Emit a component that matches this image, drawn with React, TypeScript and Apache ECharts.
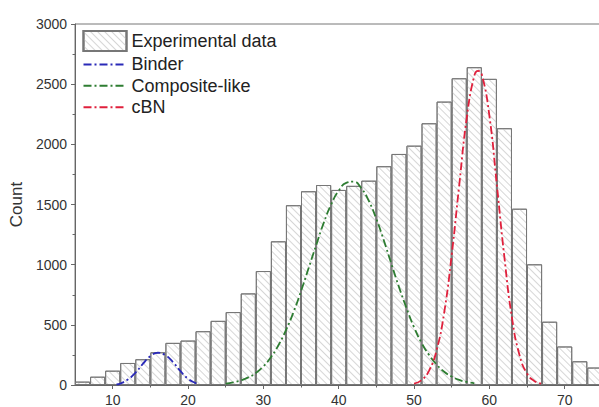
import React, { useEffect, useRef } from "react";
import * as echarts from "echarts";

const binCenters = [6, 8, 10, 12, 14, 16, 18, 20, 22, 24, 26, 28, 30, 32, 34, 36, 38, 40, 42, 44, 46, 48, 50, 52, 54, 56, 58, 60, 62, 64, 66, 68, 70, 72, 74];
const binCounts = [28, 69, 119, 183, 214, 272, 350, 369, 447, 533, 606, 761, 947, 1194, 1494, 1610, 1662, 1621, 1655, 1698, 1818, 1920, 1989, 2175, 2355, 2549, 2641, 2544, 2134, 1465, 1003, 526, 320, 197, 145];

const binderX = [10.5, 11, 12, 13, 14, 15, 16, 17, 18, 19, 20, 21, 21.5];
const binderY = [5, 12, 45, 100, 175, 240, 268, 248, 190, 115, 52, 16, 6];

const compositeX = [25, 26, 27, 28, 29, 30, 31, 32, 33, 34, 35, 36, 37, 38, 39, 40, 41, 42, 43, 44, 45, 46, 47, 48, 49, 50, 51, 52, 53, 54, 55, 56, 57, 58];
const compositeY = [12, 22, 38, 63, 100, 155, 230, 330, 455, 605, 780, 970, 1160, 1345, 1500, 1615, 1680, 1690, 1635, 1530, 1380, 1200, 1005, 815, 640, 480, 350, 250, 170, 110, 70, 42, 25, 14];

const cbnX = [50, 51, 52, 53, 54, 55, 56, 57, 58, 58.5, 59, 60, 61, 62, 63, 64, 65, 66, 67];
const cbnY = [12, 40, 120, 290, 600, 1080, 1660, 2220, 2570, 2610, 2580, 2240, 1660, 1060, 560, 250, 95, 32, 10];

const xTickLabels = [10, 20, 30, 40, 50, 60, 70];
const xMinorTicks = [15, 25, 35, 45, 55, 65, 75];

const FONT = "'Liberation Sans', Arial, Helvetica, sans-serif";

const GRID_LEFT = 73;
const GRID_TOP = 24;
const X_MIN = 5;
const X_MAX = 80;
const PX_PER_UNIT = 7.56;
const GRID_W = (X_MAX - X_MIN) * PX_PER_UNIT;
const GRID_H = 363;
const CHART_W = 680;
const CHART_H = 407;

const zip = (xs: number[], ys: number[]) => xs.map((x, i) => [x, ys[i]]);

export default function App() {
  const ref = useRef<HTMLDivElement>(null);

  useEffect(() => {
    if (!ref.current) return;
    const chart = echarts.init(ref.current, undefined, { renderer: "svg" });
    const dashDot = [8, 3, 2, 3];
    const axisColor = "#666";
    const hideSymbol = { opacity: 0 };
    const option: any = {
      animation: false,
      backgroundColor: "#ffffff",
      textStyle: { fontFamily: FONT },
      grid: {
        left: GRID_LEFT,
        top: GRID_TOP,
        width: GRID_W,
        height: GRID_H,
        show: true,
        borderColor: "#777",
        borderWidth: 1,
        backgroundColor: "transparent",
      },
      legend: {
        orient: "vertical",
        left: 82.5,
        top: 30,
        padding: 0,
        itemWidth: 43,
        itemHeight: 20,
        itemGap: 3.4,
        textStyle: { fontSize: 18, color: "#222", fontFamily: FONT },
        data: [
          { name: "Experimental data", icon: "rect" },
          { name: "Binder", itemStyle: hideSymbol },
          { name: "Composite-like", itemStyle: hideSymbol },
          { name: "cBN", itemStyle: hideSymbol },
        ],
      },
      xAxis: [
        {
          type: "value",
          min: X_MIN,
          max: X_MAX,
          axisLine: { show: true, lineStyle: { color: axisColor, width: 1 } },
          axisTick: { show: true, inside: false, length: 4, customValues: xTickLabels, lineStyle: { color: axisColor } },
          axisLabel: { show: true, customValues: xTickLabels, fontSize: 14, color: "#333", margin: 8, fontFamily: FONT },
          splitLine: { show: false },
        },
        {
          type: "value",
          min: X_MIN,
          max: X_MAX,
          position: "bottom",
          axisLine: { show: false },
          axisTick: { show: true, inside: false, length: 2.5, customValues: xMinorTicks, lineStyle: { color: axisColor } },
          axisLabel: { show: false },
          splitLine: { show: false },
        },
      ],
      yAxis: {
        type: "value",
        min: 0,
        max: 3000,
        interval: 500,
        name: "Count",
        nameLocation: "middle",
        nameGap: 46,
        nameTextStyle: { fontSize: 17, color: "#333", fontFamily: FONT },
        axisLine: { show: true, lineStyle: { color: axisColor, width: 1 } },
        axisTick: { show: true, inside: false, length: 4, lineStyle: { color: axisColor } },
        minorTick: { show: true, splitNumber: 2, length: 2.5, lineStyle: { color: axisColor } },
        axisLabel: { fontSize: 14, color: "#333", margin: 8, fontFamily: FONT, formatter: (v: number) => String(v) },
        splitLine: { show: false },
      },
      series: [
        {
          name: "Experimental data",
          type: "bar",
          xAxisIndex: 0,
          barWidth: 2 * PX_PER_UNIT,
          data: zip(binCenters, binCounts),
          itemStyle: {
            color: "#ffffff",
            borderColor: "#777",
            borderWidth: 1,
            decal: {
              symbol: "rect",
              symbolSize: 1,
              dashArrayX: [1, 0],
              dashArrayY: [1, 3.4],
              rotation: Math.PI / 4,
              color: "#d6d6d6",
              backgroundColor: "#ffffff",
            },
          },
          z: 2,
        },
        {
          name: "Binder",
          type: "line",
          symbol: "none",
          smooth: true,
          data: zip(binderX, binderY),
          lineStyle: { color: "#2a2ab8", width: 1.8, type: dashDot },
          itemStyle: { color: "#2a2ab8" },
          z: 5,
        },
        {
          name: "Composite-like",
          type: "line",
          symbol: "none",
          smooth: true,
          data: zip(compositeX, compositeY),
          lineStyle: { color: "#2e7d32", width: 1.8, type: dashDot },
          itemStyle: { color: "#2e7d32" },
          z: 5,
        },
        {
          name: "cBN",
          type: "line",
          symbol: "none",
          smooth: true,
          data: zip(cbnX, cbnY),
          lineStyle: { color: "#e0203c", width: 1.8, type: dashDot },
          itemStyle: { color: "#e0203c" },
          z: 5,
        },
      ],
    };
    chart.setOption(option);
    return () => chart.dispose();
  }, []);

  return (
    <div
      style={{
        position: "fixed",
        left: 0,
        top: 0,
        width: 599,
        height: 407,
        overflow: "hidden",
        background: "#fff",
      }}
    >
      <div ref={ref} style={{ width: CHART_W, height: CHART_H }} />
    </div>
  );
}
